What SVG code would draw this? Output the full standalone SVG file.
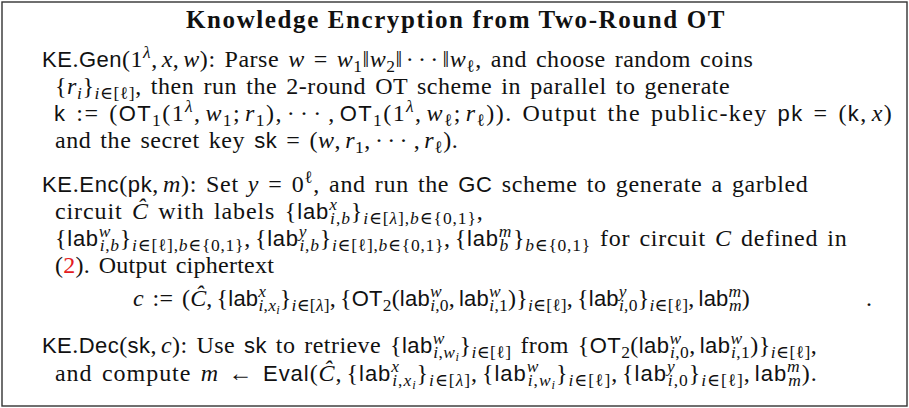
<svg xmlns="http://www.w3.org/2000/svg" width="909" height="408" viewBox="0 0 909 408">
<style>
.r { font-family: "Liberation Serif", "DejaVu Serif", serif; font-size: 24px; letter-spacing: 0.25px; word-spacing: 2.5px; fill: #111; }
.s { font-family: "Liberation Sans", "DejaVu Sans", sans-serif; font-size: 22px; }
.i { font-style: italic; }
.sc { font-size: 17.5px; }
.ss { font-size: 12.5px; }
.red { fill: #e31b23; }
.title { font-family: "Liberation Serif", "DejaVu Serif", serif; font-weight: bold; font-size: 25px; letter-spacing: 1.6px; fill: #111; }
.frame { fill: #fff; stroke: #333; stroke-width: 1.4; }
</style>
<rect class="frame" x="2" y="2" width="905" height="404"/>
<g id="title">
<text class="title" x="456" y="28" text-anchor="middle">Knowledge Encryption from Two-Round OT</text>
</g>
<g id="gen">
<text class="r" x="42" y="67" textLength="711" lengthAdjust="spacing"><tspan class="s">KE</tspan>.<tspan class="s">Gen</tspan>(1<tspan class="sc i" dy="-9">λ</tspan><tspan dy="9">,</tspan><tspan class="i" dx="4">x</tspan>,<tspan class="i" dx="4">w</tspan>): Parse <tspan class="i">w</tspan> = <tspan class="i">w</tspan><tspan class="sc" dy="5">1</tspan><tspan dy="-5">‖</tspan><tspan class="i">w</tspan><tspan class="sc" dy="5">2</tspan><tspan dy="-5">‖</tspan><tspan dx="3" letter-spacing="4">···</tspan><tspan>‖</tspan><tspan class="i">w</tspan><tspan class="sc" dy="5">ℓ</tspan><tspan dy="-5">, and choose random coins</tspan></text>
<text class="r" x="55" y="94" textLength="675" lengthAdjust="spacing">{<tspan class="i">r</tspan><tspan class="sc i" dy="5">i</tspan><tspan dy="-5">}</tspan><tspan class="sc" dy="5"><tspan class="i">i</tspan>∈[ℓ]</tspan><tspan dy="-5">, then run the 2-round OT scheme in parallel to generate</tspan></text>
<text class="r" x="54" y="121" textLength="838" lengthAdjust="spacing"><tspan class="s">k</tspan> := (<tspan class="s">OT</tspan><tspan class="sc" dy="5">1</tspan><tspan dy="-5">(1</tspan><tspan class="sc i" dy="-9">λ</tspan><tspan dy="9">,</tspan><tspan class="i" dx="4">w</tspan><tspan class="sc" dy="5">1</tspan><tspan dy="-5">;</tspan><tspan class="i" dx="4">r</tspan><tspan class="sc" dy="5">1</tspan><tspan dy="-5">),</tspan><tspan dx="4" letter-spacing="4">···</tspan><tspan dx="2">,</tspan><tspan class="s" dx="4">OT</tspan><tspan class="sc" dy="5">1</tspan><tspan dy="-5">(1</tspan><tspan class="sc i" dy="-9">λ</tspan><tspan dy="9">,</tspan><tspan class="i" dx="4">w</tspan><tspan class="sc" dy="5">ℓ</tspan><tspan dy="-5">;</tspan><tspan class="i" dx="4">r</tspan><tspan class="sc" dy="5">ℓ</tspan><tspan dy="-5">)). Output the public-key </tspan><tspan class="s">pk</tspan> = (<tspan class="s">k</tspan>,<tspan class="i" dx="4">x</tspan>)</text>
<text class="r" x="55" y="148" textLength="403" lengthAdjust="spacing">and the secret key <tspan class="s">sk</tspan> = (<tspan class="i">w</tspan>,<tspan class="i" dx="4">r</tspan><tspan class="sc" dy="5">1</tspan><tspan dy="-5">,</tspan><tspan dx="4" letter-spacing="4">···</tspan><tspan dx="2">,</tspan><tspan class="i" dx="4">r</tspan><tspan class="sc" dy="5">ℓ</tspan><tspan dy="-5">).</tspan></text>
</g>
<g id="enc">
<text class="r" x="42" y="192" textLength="766" lengthAdjust="spacing"><tspan class="s">KE</tspan>.<tspan class="s">Enc</tspan>(<tspan class="s">pk</tspan>,<tspan class="i" dx="4">m</tspan>): Set <tspan class="i">y</tspan> = 0<tspan class="sc" dy="-9">ℓ</tspan><tspan dy="9">, and run the </tspan><tspan class="s">GC</tspan> scheme to generate a garbled</text>
<text class="r" x="55" y="219" textLength="428" lengthAdjust="spacing">circuit <tspan class="i">Ĉ</tspan> with labels {<tspan class="s">lab</tspan><tspan class="sc i" dy="-9">x</tspan><tspan class="sc" dx="-7.8" dy="14"><tspan class="i">i</tspan>,<tspan class="i">b</tspan></tspan><tspan dy="-5">}</tspan><tspan class="sc" dy="5"><tspan class="i">i</tspan>∈[<tspan class="i">λ</tspan>],<tspan class="i">b</tspan>∈{0,1}</tspan><tspan dy="-5">,</tspan></text>
<text class="r" x="55" y="246" textLength="792" lengthAdjust="spacing">{<tspan class="s">lab</tspan><tspan class="sc i" dy="-9">w</tspan><tspan class="sc" dx="-11.6" dy="14"><tspan class="i">i</tspan>,<tspan class="i">b</tspan></tspan><tspan dy="-5">}</tspan><tspan class="sc" dy="5"><tspan class="i">i</tspan>∈[ℓ],<tspan class="i">b</tspan>∈{0,1}</tspan><tspan dy="-5">,</tspan><tspan dx="4">{</tspan><tspan class="s">lab</tspan><tspan class="sc i" dy="-9">y</tspan><tspan class="sc" dx="-7.8" dy="14"><tspan class="i">i</tspan>,<tspan class="i">b</tspan></tspan><tspan dy="-5">}</tspan><tspan class="sc" dy="5"><tspan class="i">i</tspan>∈[ℓ],<tspan class="i">b</tspan>∈{0,1}</tspan><tspan dy="-5">,</tspan><tspan dx="4">{</tspan><tspan class="s">lab</tspan><tspan class="sc i" dy="-9">m</tspan><tspan class="sc i" dx="-12.5" dy="14">b</tspan><tspan dx="4" dy="-5">}</tspan><tspan class="sc" dy="5"><tspan class="i">b</tspan>∈{0,1}</tspan><tspan dy="-5"> for circuit </tspan><tspan class="i">C</tspan> defined in</text>
<text class="r" x="55" y="273">(<tspan class="red">2</tspan>). Output ciphertext</text>
<text class="r" x="133" y="306" textLength="617" lengthAdjust="spacing"><tspan class="i">c</tspan> := (<tspan class="i">Ĉ</tspan>,<tspan dx="4">{</tspan><tspan class="s">lab</tspan><tspan class="sc i" dy="-9">x</tspan><tspan class="sc" dx="-7.8" dy="14"><tspan class="i">i</tspan>,<tspan class="i">x</tspan><tspan class="ss i" dy="3">i</tspan></tspan><tspan dy="-8">}</tspan><tspan class="sc" dy="5"><tspan class="i">i</tspan>∈[<tspan class="i">λ</tspan>]</tspan><tspan dy="-5">,</tspan><tspan dx="4">{</tspan><tspan class="s">OT</tspan><tspan class="sc" dy="5">2</tspan><tspan dy="-5">(</tspan><tspan class="s">lab</tspan><tspan class="sc i" dy="-9">w</tspan><tspan class="sc" dx="-11.6" dy="14"><tspan class="i">i</tspan>,0</tspan><tspan dy="-5">,</tspan><tspan class="s" dx="4">lab</tspan><tspan class="sc i" dy="-9">w</tspan><tspan class="sc" dx="-11.6" dy="14"><tspan class="i">i</tspan>,1</tspan><tspan dy="-5">)}</tspan><tspan class="sc" dy="5"><tspan class="i">i</tspan>∈[ℓ]</tspan><tspan dy="-5">,</tspan><tspan dx="4">{</tspan><tspan class="s">lab</tspan><tspan class="sc i" dy="-9">y</tspan><tspan class="sc" dx="-7.8" dy="14"><tspan class="i">i</tspan>,0</tspan><tspan dy="-5">}</tspan><tspan class="sc" dy="5"><tspan class="i">i</tspan>∈[ℓ]</tspan><tspan dy="-5">,</tspan><tspan class="s" dx="4">lab</tspan><tspan class="sc i" dy="-9">m</tspan><tspan class="sc i" dx="-12.5" dy="14">m</tspan><tspan dy="-5">)</tspan></text>
<text class="r" x="866" y="306">.</text>
</g>
<g id="dec">
<text class="r" x="42" y="353" textLength="775" lengthAdjust="spacing"><tspan class="s">KE</tspan>.<tspan class="s">Dec</tspan>(<tspan class="s">sk</tspan>,<tspan class="i" dx="4">c</tspan>): Use <tspan class="s">sk</tspan> to retrieve {<tspan class="s">lab</tspan><tspan class="sc i" dy="-9">w</tspan><tspan class="sc" dx="-11.6" dy="14"><tspan class="i">i</tspan>,<tspan class="i">w</tspan><tspan class="ss i" dy="3">i</tspan></tspan><tspan dy="-8">}</tspan><tspan class="sc" dy="5"><tspan class="i">i</tspan>∈[ℓ]</tspan><tspan dy="-5"> from {</tspan><tspan class="s">OT</tspan><tspan class="sc" dy="5">2</tspan><tspan dy="-5">(</tspan><tspan class="s">lab</tspan><tspan class="sc i" dy="-9">w</tspan><tspan class="sc" dx="-11.6" dy="14"><tspan class="i">i</tspan>,0</tspan><tspan dy="-5">,</tspan><tspan class="s" dx="4">lab</tspan><tspan class="sc i" dy="-9">w</tspan><tspan class="sc" dx="-11.6" dy="14"><tspan class="i">i</tspan>,1</tspan><tspan dy="-5">)}</tspan><tspan class="sc" dy="5"><tspan class="i">i</tspan>∈[ℓ]</tspan><tspan dy="-5">,</tspan></text>
<text class="r" x="55" y="381" textLength="762" lengthAdjust="spacing">and compute <tspan class="i">m</tspan> ← <tspan class="s">Eval</tspan>(<tspan class="i">Ĉ</tspan>,<tspan dx="4">{</tspan><tspan class="s">lab</tspan><tspan class="sc i" dy="-9">x</tspan><tspan class="sc" dx="-7.8" dy="14"><tspan class="i">i</tspan>,<tspan class="i">x</tspan><tspan class="ss i" dy="3">i</tspan></tspan><tspan dy="-8">}</tspan><tspan class="sc" dy="5"><tspan class="i">i</tspan>∈[<tspan class="i">λ</tspan>]</tspan><tspan dy="-5">,</tspan><tspan dx="4">{</tspan><tspan class="s">lab</tspan><tspan class="sc i" dy="-9">w</tspan><tspan class="sc" dx="-11.6" dy="14"><tspan class="i">i</tspan>,<tspan class="i">w</tspan><tspan class="ss i" dy="3">i</tspan></tspan><tspan dy="-8">}</tspan><tspan class="sc" dy="5"><tspan class="i">i</tspan>∈[ℓ]</tspan><tspan dy="-5">,</tspan><tspan dx="4">{</tspan><tspan class="s">lab</tspan><tspan class="sc i" dy="-9">y</tspan><tspan class="sc" dx="-7.8" dy="14"><tspan class="i">i</tspan>,0</tspan><tspan dy="-5">}</tspan><tspan class="sc" dy="5"><tspan class="i">i</tspan>∈[ℓ]</tspan><tspan dy="-5">,</tspan><tspan class="s" dx="4">lab</tspan><tspan class="sc i" dy="-9">m</tspan><tspan class="sc i" dx="-12.5" dy="14">m</tspan><tspan dy="-5">).</tspan></text>
</g>
</svg>
